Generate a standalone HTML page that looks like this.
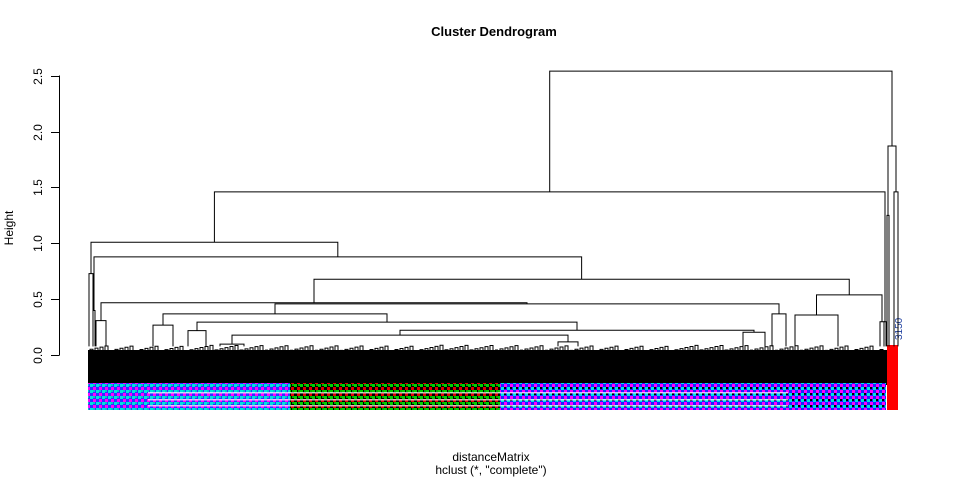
<!DOCTYPE html>
<html><head><meta charset="utf-8"><style>
html,body{margin:0;padding:0;background:#fff;}
svg{display:block;font-family:"Liberation Sans",Arial,sans-serif;}
</style></head><body>
<svg id="chart" width="960" height="480" viewBox="0 0 960 480" xmlns="http://www.w3.org/2000/svg">
<defs>
<pattern id="lblA" width="6" height="6" patternUnits="userSpaceOnUse"><rect width="6" height="6" fill="#3030ff"/><rect width="3" height="3" fill="#00e0e0"/><rect x="3" y="3" width="3" height="3" fill="#ff00ff"/><rect x="3" y="0" width="2" height="2" fill="#00c8c8"/></pattern>
<pattern id="lblB" width="6" height="6" patternUnits="userSpaceOnUse"><rect width="6" height="6" fill="#000"/><rect width="3" height="3" fill="#00d000"/><rect x="3" y="3" width="3" height="3" fill="#e00000"/><rect x="4" y="0" width="2" height="2" fill="#00b000"/></pattern>
<pattern id="lblC" width="6" height="6" patternUnits="userSpaceOnUse"><rect width="6" height="6" fill="#2020ff"/><rect width="3" height="3" fill="#ff00ff"/><rect x="3" y="3" width="3" height="3" fill="#00e0e0"/><rect x="0" y="3" width="2" height="2" fill="#000"/></pattern>
</defs>
<text x="494" y="36" text-anchor="middle" font-size="13" font-weight="bold">Cluster Dendrogram</text>
<g id="yaxis"></g>
<text transform="translate(13,228) rotate(-90)" text-anchor="middle" font-size="12">Height</text>
<text x="491" y="461" text-anchor="middle" font-size="12">distanceMatrix</text>
<text x="491" y="474" text-anchor="middle" font-size="12">hclust (*, "complete")</text>
<g id="band"></g>
<g id="fuzz" stroke="#000" stroke-width="1" fill="none"></g>
<g id="tree" stroke="#000" stroke-width="1" fill="none"></g>
</svg>
<script>
// leaf clusters (leaf-order index ranges) and their merge heights
const leafStart = [1, 5, 8, 65, 100, 132, 470, 655, 684, 707, 792, 796, 799, 806];
const leafEnd   = [5, 7, 18, 85, 118, 156, 490, 677, 698, 750, 796, 798, 801, 810];
const leafHeight= [0.73, 0.40, 0.31, 0.27, 0.22, 0.10, 0.12, 0.206, 0.37, 0.36, 0.30, 0.30, 1.25, 1.46];
// R-style merge table: negative = leaf cluster, positive = earlier merge
const mergeLeft  = [-6, -8, -5, -4, 4, -3, -10, 6, -2, -1, 10, -13, 11];
const mergeRight = [-7, 1, 2, 3, -9, 5, -11, 7, 8, 9, -12, -14, 12];
const mergeHeight= [0.18, 0.224, 0.296, 0.37, 0.46, 0.47, 0.54, 0.68, 0.88, 1.01, 1.46, 1.87, 2.54];
const yTicks = [0, 0.5, 1, 1.5, 2, 2.5];
const yTickLabels = ["0.0", "0.5", "1.0", "1.5", "2.0", "2.5"];
const nLeaves = 810;

const NS = "http://www.w3.org/2000/svg";
const X0 = 88, X1 = 898;
const xScale = i => X0 + (i / nLeaves) * (X1 - X0);
const yScale = h => 355.3 - h * 111.9;

function mk(tag, attrs, parent) {
  const e = document.createElementNS(NS, tag);
  for (const k in attrs) e.setAttribute(k, attrs[k]);
  parent.appendChild(e);
  return e;
}

// axis
const ax = document.getElementById('yaxis');
const axLine = mk('line', {x1: 59.5, x2: 59.5, y1: yScale(yTicks[0]), y2: yScale(yTicks[yTicks.length - 1]), stroke: '#000'}, ax);


yTicks.forEach((t, i) => {
  const y = Math.round(yScale(t)) + 0.5;
  const tk = mk('line', {x1: 51, x2: 59.5, y1: y, y2: y, stroke: '#000'}, ax);
  
  
  const lb = mk('text', {transform: `translate(42,${y}) rotate(-90)`, 'text-anchor': 'middle', 'font-size': 12}, ax);
  lb.textContent = yTickLabels[i];
  
  
});

// leaf band (dense leaves and labels)
const band = document.getElementById('band');
const fuzzRect = mk('rect', {x: X0, y: 350, width: X1 - X0, height: 35, fill: '#000'}, band);


[[0, 202, 'url(#lblA)'], [202, 412, 'url(#lblB)'], [412, 798, 'url(#lblC)']].forEach(s => {
  const r = mk('rect', {x: xScale(s[0]), y: 383, width: xScale(s[1]) - xScale(s[0]), height: 27, fill: s[2]}, band);
  
  
});
[392, 399, 405].forEach(y => {
  const w = mk('rect', {x: xScale(60), y: y, width: xScale(700) - xScale(60), height: 1.5, fill: '#fff', opacity: 0.7}, band);
  
  
});
const redLbl = mk('rect', {x: xScale(799), y: 345, width: xScale(810) - xScale(799), height: 65, fill: '#f00'}, band);


const blueLbl = mk('text', {transform: `translate(${xScale(810)+4},340) rotate(-90)`, 'font-size': 10, fill: '#2040a0'}, band);
blueLbl.textContent = '3150';



// decorative small branches just above the dense band
const fz = document.getElementById('fuzz');
let d = '';
for (let i = 2; i < 796; i += 5) {
  const hsh = ((i * 7919) % 97) / 97;
  const hh = 0.04 + hsh * 0.05;
  const y = yScale(hh);
  d += `M${xScale(i)},350V${y}H${xScale(i + 3)}V350`;
}
const fp = mk('path', {d: d}, fz);



// dendrogram
const tree = document.getElementById('tree');
const leafX = leafStart.map((s, i) => xScale((s + leafEnd[i]) / 2));
const nodeX = [];
function pos(id) { return id < 0 ? [leafX[-id - 1], leafHeight[-id - 1]] : [nodeX[id - 1], mergeHeight[id - 1]]; }
const base = 0.08;
leafStart.forEach((s, i) => {
  const xa = xScale(s), xb = xScale(leafEnd[i]), y = yScale(leafHeight[i]);
  const p = mk('path', {d: `M${xa},${yScale(base)}V${y}H${xb}V${yScale(base)}`}, tree);
  
  
});
mergeLeft.forEach((l, i) => {
  const [xl, hl] = pos(l), [xr, hr] = pos(mergeRight[i]);
  const h = mergeHeight[i];
  nodeX.push((xl + xr) / 2);
  const p = mk('path', {d: `M${xl},${yScale(hl)}V${yScale(h)}H${xr}V${yScale(hr)}`}, tree);
  
  
});
</script>
</body></html>
